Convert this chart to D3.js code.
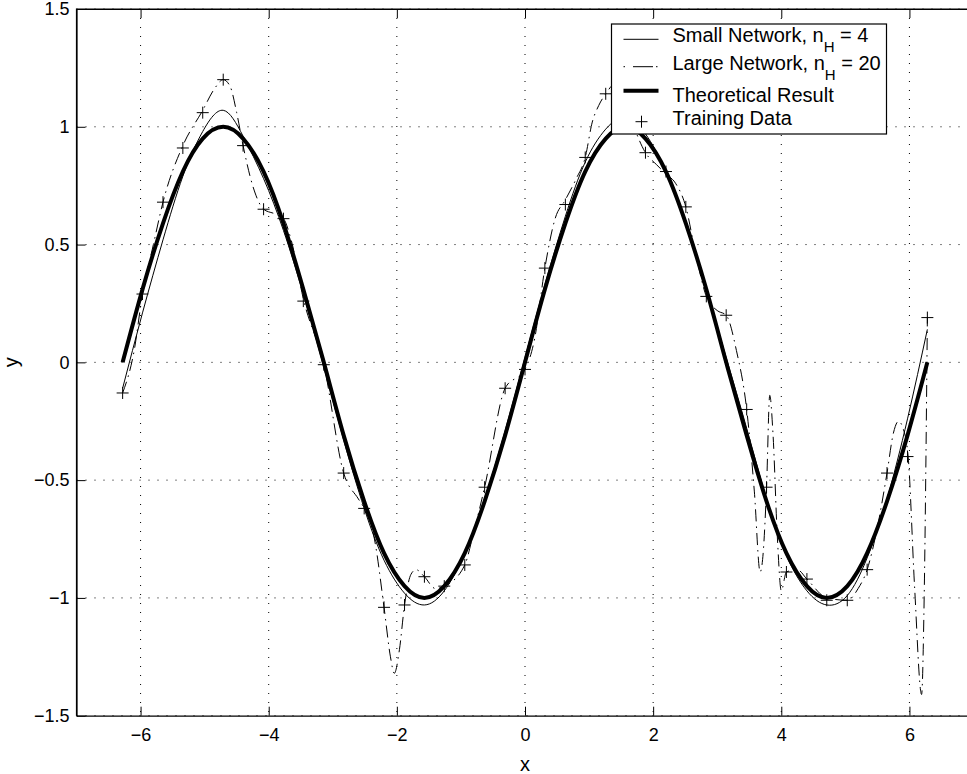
<!DOCTYPE html>
<html>
<head>
<meta charset="utf-8">
<script src="https://cdn.jsdelivr.net/npm/d3@7"></script>
<style>
    body { margin: 0; background: #fff; }
    svg { display: block; font-family: "Liberation Sans", Arial, sans-serif; }
    .axis text { font-size: 18px; fill: #000; }
    .axis line { stroke: #000; }
    .grid line { stroke: #000; stroke-dasharray: 1,8; stroke-width: 1; }
</style>
</head>
<body>
<div id="chart-area"></div>
<script>

// sample points (x) shared by training data, small network and theory
let xGrid = [-6.28, -5.97, -5.65, -5.34, -5.03, -4.71, -4.40, -4.08, -3.77, -3.46,
    -3.14, -2.83, -2.51, -2.20, -1.88, -1.57, -1.26, -0.94, -0.63, -0.31,
    0.00, 0.31, 0.63, 0.94, 1.26, 1.57, 1.88, 2.20, 2.51, 2.83,
    3.14, 3.46, 3.77, 4.08, 4.40, 4.71, 5.03, 5.34, 5.65, 5.97, 6.28];

let trainY = [-0.13, 0.29, 0.68, 0.91, 1.06, 1.20, 0.92, 0.65, 0.61, 0.26,
    -0.01, -0.47, -0.62, -1.04, -1.03, -0.91, -0.95, -0.86, -0.53, -0.11,
    -0.03, 0.40, 0.67, 0.87, 1.14, 1.00, 0.89, 0.81, 0.66, 0.28,
    0.20, -0.20, -0.53, -0.89, -0.92, -1.01, -1.01, -0.88, -0.47, -0.40, 0.19];

let smallY = [-0.11, 0.21, 0.52, 0.79, 0.98, 1.07, 0.96, 0.78, 0.56, 0.29,
    -0.02, -0.33, -0.62, -0.84, -0.98, -1.03, -0.97, -0.81, -0.58, -0.29,
    0.02, 0.33, 0.62, 0.85, 0.99, 1.04, 0.97, 0.81, 0.59, 0.31,
    0.02, -0.28, -0.58, -0.82, -0.97, -1.03, -0.99, -0.83, -0.58, -0.24, 0.14];

let theoryY = [0.00, 0.31, 0.59, 0.81, 0.95, 1.00, 0.95, 0.81, 0.59, 0.31,
    0.00, -0.31, -0.59, -0.81, -0.95, -1.00, -0.95, -0.81, -0.59, -0.31,
    0.00, 0.31, 0.59, 0.81, 0.95, 1.00, 0.95, 0.81, 0.59, 0.31,
    0.00, -0.31, -0.59, -0.81, -0.95, -1.00, -0.95, -0.81, -0.59, -0.31, 0.00];

// large network is sampled more densely around its spikes
let largeX = [-6.28, -6.10, -5.97, -5.80, -5.65, -5.34, -5.03, -4.85, -4.71, -4.60,
    -4.50, -4.40, -4.25, -4.08, -3.90, -3.77, -3.65, -3.46, -3.14, -2.83,
    -2.60, -2.51, -2.35, -2.20, -2.10, -2.04, -1.96, -1.88, -1.78, -1.70,
    -1.57, -1.40, -1.26, -0.94, -0.80, -0.63, -0.31, 0.00, 0.15, 0.31,
    0.47, 0.63, 0.80, 0.94, 1.05, 1.15, 1.26, 1.40, 1.55, 1.70,
    1.88, 2.05, 2.20, 2.35, 2.51, 2.65, 2.83, 3.00, 3.14, 3.30,
    3.46, 3.58, 3.67, 3.72, 3.77, 3.82, 3.87, 3.94, 4.00, 4.08,
    4.25, 4.40, 4.71, 5.03, 5.20, 5.34, 5.50, 5.65, 5.75, 5.83,
    5.90, 5.98, 6.08, 6.19, 6.23, 6.28];
let largeY = [-0.13, 0.05, 0.29, 0.50, 0.68, 0.92, 1.07, 1.16, 1.20, 1.17,
    1.06, 0.92, 0.75, 0.65, 0.63, 0.61, 0.52, 0.27, -0.01, -0.47,
    -0.58, -0.62, -0.75, -1.04, -1.25, -1.32, -1.22, -1.03, -0.90, -0.88,
    -0.91, -0.96, -0.95, -0.86, -0.72, -0.53, -0.11, -0.03, 0.10, 0.40,
    0.61, 0.69, 0.78, 0.87, 1.02, 1.09, 1.14, 1.18, 1.12, 1.00,
    0.89, 0.84, 0.80, 0.76, 0.66, 0.48, 0.28, 0.22, 0.20, 0.05,
    -0.20, -0.55, -0.89, -0.80, -0.53, -0.14, -0.30, -0.75, -0.97, -0.89,
    -0.88, -0.92, -1.00, -1.01, -0.96, -0.88, -0.70, -0.47, -0.30, -0.25,
    -0.28, -0.40, -0.95, -1.41, -1.00, 0.19];

let xTicks = [-6, -4, -2, 0, 2, 4, 6];
let yTicks = [-1.5, -1, -0.5, 0, 0.5, 1, 1.5];

let legendLabels = [
    {text: "Small Network, n", sub: "H", rest: " = 4"},
    {text: "Large Network, n", sub: "H", rest: " = 20"},
    {text: "Theoretical Result"},
    {text: "Training Data"}
];


class FitPlot {

    constructor(parentElement) {
        this.parentElement = parentElement;
    }

    initVis() {
        let vis = this;

        vis.margin = {top: 9, left: 76.5};
        vis.width = 897;
        vis.height = 706.7;

        vis.svg = d3.select("#" + vis.parentElement).append("svg")
            .attr("width", 967)
            .attr("height", 774)
            .append("g")
            .attr("transform", `translate(${vis.margin.left}, ${vis.margin.top})`);

        // Scales
        vis.x = d3.scaleLinear().domain([-7, 7]).range([0, vis.width]);
        vis.y = d3.scaleLinear().domain([-1.5, 1.5]).range([vis.height, 0]);

        vis.wrangleData();
    }

    wrangleData() {
        let vis = this;

        vis.train = xGrid.map((x, i) => ({x: x, y: trainY[i]}));
        vis.small = xGrid.map((x, i) => ({x: x, y: smallY[i]}));
        vis.theory = xGrid.map((x, i) => ({x: x, y: theoryY[i]}));
        vis.large = largeX.map((x, i) => ({x: x, y: largeY[i]}));

        vis.updateVis();
    }

    updateVis() {
        let vis = this;
        let fmt = d3.format("~g");

        // Grid (dotted)
        vis.svg.append("g")
            .attr("class", "grid")
            .selectAll("line")
            .data(xTicks)
            .join("line")
            .attr("x1", d => vis.x(d)).attr("x2", d => vis.x(d))
            .attr("y1", 0).attr("y2", vis.height);
        vis.svg.append("g")
            .attr("class", "grid")
            .selectAll("line")
            .data(yTicks)
            .join("line")
            .attr("x1", 0).attr("x2", vis.width)
            .attr("y1", d => vis.y(d)).attr("y2", d => vis.y(d));

        // Axes, ticks pointing inward
        vis.svg.append("g")
            .attr("class", "x-axis axis")
            .attr("transform", "translate(0," + vis.height + ")")
            .call(d3.axisBottom(vis.x).tickValues(xTicks).tickFormat(fmt)
                .tickSizeInner(-9).tickSizeOuter(0).tickPadding(13));
        vis.svg.append("g")
            .attr("class", "axis")
            .call(d3.axisTop(vis.x).tickValues(xTicks).tickFormat("")
                .tickSizeInner(-9).tickSizeOuter(0));
        vis.svg.append("g")
            .attr("class", "y-axis axis")
            .call(d3.axisLeft(vis.y).tickValues(yTicks).tickFormat(fmt)
                .tickSizeInner(-9).tickSizeOuter(0).tickPadding(7));
        vis.svg.selectAll(".axis .domain").attr("stroke", "#000").attr("stroke-width", 1.2);

        // Lines
        let line = d3.line()
            .x(d => vis.x(d.x))
            .y(d => vis.y(d.y));

        vis.svg.append("path")
            .datum(vis.small)
            .attr("fill", "none")
            .attr("stroke", "#000")
            .attr("stroke-width", 1)
            .attr("d", line.curve(d3.curveNatural));

        vis.svg.append("path")
            .datum(vis.large)
            .attr("fill", "none")
            .attr("stroke", "#000")
            .attr("stroke-width", 1)
            .attr("stroke-dasharray", "12,5,1.5,5")
            .attr("d", line.curve(d3.curveMonotoneX));

        vis.svg.append("path")
            .datum(vis.theory)
            .attr("fill", "none")
            .attr("stroke", "#000")
            .attr("stroke-width", 4)
            .attr("d", line.curve(d3.curveNatural));

        // Training data markers
        vis.svg.append("g")
            .selectAll("path")
            .data(vis.train)
            .join("path")
            .attr("d", d => {
                let cx = vis.x(d.x), cy = vis.y(d.y);
                return `M${cx - 6},${cy}H${cx + 6}M${cx},${cy - 6}V${cy + 6}`;
            })
            .attr("stroke", "#000")
            .attr("stroke-width", 1)
            .attr("fill", "none");

        // Frame (top and left; right edge falls outside the picture)
        vis.svg.append("path")
            .attr("d", `M0,${vis.height}V0H${vis.width}`)
            .attr("fill", "none")
            .attr("stroke", "#000")
            .attr("stroke-width", 1.2);

        // Axis labels
        vis.svg.append("text")
            .text("x")
            .attr("x", vis.x(0))
            .attr("y", vis.height + 55)
            .attr("text-anchor", "middle")
            .attr("font-size", 20);
        vis.svg.append("text")
            .text("y")
            .attr("transform", `translate(${-59}, ${vis.y(0)}) rotate(-90)`)
            .attr("text-anchor", "middle")
            .attr("font-size", 20);

        // Legend
        let lg = d3.select("svg").append("g").attr("transform", "translate(611.5, 24)");
        lg.append("rect")
            .attr("width", 275).attr("height", 110)
            .attr("fill", "#fff").attr("stroke", "#000").attr("stroke-width", 1.2);

        let rowText = [17.7, 46, 77.7, 101];
        let rowLine = [15.3, 42.7, 66.7, 97.7];

        lg.append("line").attr("x1", 12).attr("x2", 47)
            .attr("y1", rowLine[0]).attr("y2", rowLine[0])
            .attr("stroke", "#000").attr("stroke-width", 1);
        lg.append("line").attr("x1", 12).attr("x2", 47)
            .attr("y1", rowLine[1]).attr("y2", rowLine[1])
            .attr("stroke", "#000").attr("stroke-width", 1)
            .attr("stroke-dasharray", "1.5,8,20,3,1.5,8");
        lg.append("line").attr("x1", 12).attr("x2", 47)
            .attr("y1", rowLine[2]).attr("y2", rowLine[2])
            .attr("stroke", "#000").attr("stroke-width", 4);
        lg.append("path")
            .attr("d", `M24,${rowLine[3]}H36M30,${rowLine[3] - 6}V${rowLine[3] + 6}`)
            .attr("stroke", "#000").attr("stroke-width", 1);

        legendLabels.forEach((l, i) => {
            let t = lg.append("text")
                .attr("x", 61)
                .attr("y", rowText[i])
                .attr("font-size", 20);
            t.append("tspan").text(l.text);
            if (l.sub) {
                t.append("tspan").text(l.sub).attr("dy", 10).attr("font-size", 15);
                t.append("tspan").text(l.rest).attr("dy", -10);
            }
        });
    }
}

let plot = new FitPlot("chart-area");
plot.initVis();
</script>
</body>
</html>
